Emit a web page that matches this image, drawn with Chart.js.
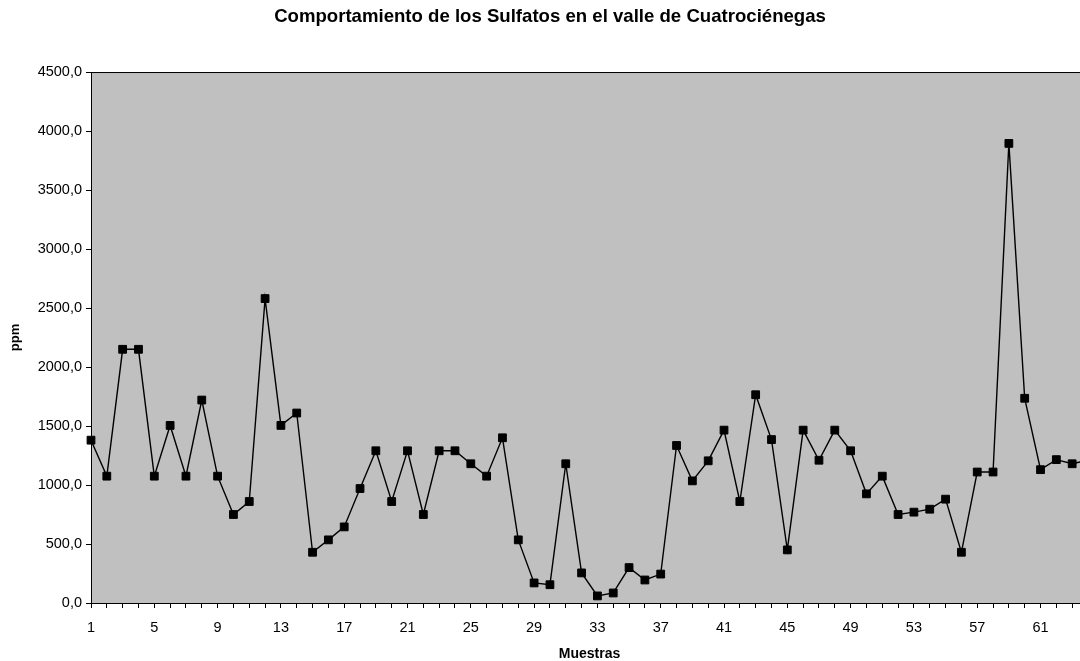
<!DOCTYPE html>
<html>
<head>
<meta charset="utf-8">
<script src="https://cdn.jsdelivr.net/npm/chart.js@4.4.1/dist/chart.umd.min.js"></script>
<style>
  html, body { margin: 0; padding: 0; background: #ffffff; overflow: hidden; width: 1080px; height: 661px; }
  canvas { display: block; }
</style>
</head>
<body>
<canvas id="c" width="1100" height="661"></canvas>
<script>
const categories = ['1','2','3','4','5','6','7','8','9','10','11','12','13','14','15','16','17','18','19','20','21','22','23','24','25','26','27','28','29','30','31','32','33','34','35','36','37','38','39','40','41','42','43','44','45','46','47','48','49','50','51','52','53','54','55','56','57','58','59','60','61','62','63','64'];
const sulfatos = [1380,1075,2150,2150,1075,1505,1075,1720,1075,750,860,2580,1505,1610,430,535,645,970,1290,860,1290,750,1290,1290,1180,1075,1400,535,170,155,1180,255,60,85,300,195,245,1335,1035,1205,1465,860,1765,1385,450,1465,1210,1465,1290,925,1075,750,770,795,880,430,1110,1110,3895,1735,1130,1215,1180,1210];
const xTickLabels = ['1','5','9','13','17','21','25','29','33','37','41','45','49','53','57','61'];
const yTickValues = [0,500,1000,1500,2000,2500,3000,3500,4000,4500];

const FONT = '"Liberation Sans", Arial, sans-serif';

const plotBg = {
  id: 'plotBg',
  beforeDraw(chart) {
    const {ctx, chartArea: a} = chart;
    ctx.save();
    ctx.fillStyle = '#c0c0c0';
    ctx.fillRect(a.left, a.top, a.right - a.left, a.bottom - a.top);
    ctx.restore();
  },
  afterDraw(chart) {
    const {ctx, chartArea: a} = chart;
    ctx.save();
    ctx.strokeStyle = '#000000';
    ctx.lineWidth = 1;
    ctx.strokeRect(a.left + 0.5, a.top + 0.5, a.right - a.left, a.bottom - a.top);
    ctx.restore();
  }
};

new Chart(document.getElementById('c'), {
  type: 'line',
  data: {
    labels: categories,
    datasets: [{
      label: 'Sulfatos',
      data: sulfatos,
      borderColor: '#000000',
      borderWidth: 1.4,
      backgroundColor: '#000000',
      pointStyle: 'rect',
      pointRadius: 5.5,
      pointBorderWidth: 1,
      pointBackgroundColor: '#000000',
      pointBorderColor: '#000000',
      tension: 0,
      fill: false,
      clip: false
    }]
  },
  options: {
    responsive: false,
    animation: false,
    devicePixelRatio: 1,
    layout: { padding: { left: 12, right: 12, top: 0, bottom: 0 } },
    plugins: {
      legend: { display: false },
      tooltip: { enabled: false },
      title: {
        display: true,
        text: 'Comportamiento de los Sulfatos en el valle de Cuatrociénegas',
        color: '#000000',
        font: { family: FONT, size: 18.6, weight: 'bold', lineHeight: 1.2 },
        padding: { top: 6, bottom: 43.7 }
      }
    },
    scales: {
      x: {
        type: 'category',
        offset: false,
        grid: { display: true, drawOnChartArea: false, drawTicks: true, tickLength: 5, color: '#000000', lineWidth: 1 },
        border: { display: true, color: '#000000', width: 1 },
        ticks: {
          autoSkip: false,
          maxRotation: 0,
          minRotation: 0,
          padding: 11,
          color: '#000000',
          font: { family: FONT, size: 14.5 },
          callback: function(value, index) {
            const lab = this.getLabelForValue(value);
            return xTickLabels.includes(lab) ? lab : '';
          }
        },
        title: {
          display: true,
          text: 'Muestras',
          color: '#000000',
          font: { family: FONT, size: 14, weight: 'bold', lineHeight: 1.2 },
          padding: { top: 0, bottom: -2 }
        },
        afterFit(scale) { scale.height = 58; }
      },
      y: {
        min: 0,
        max: 4500,
        grid: { display: true, drawOnChartArea: false, drawTicks: true, tickLength: 5, color: '#000000', lineWidth: 1 },
        border: { display: true, color: '#000000', width: 1 },
        afterBuildTicks(scale) { scale.ticks = yTickValues.map(v => ({ value: v })); },
        ticks: {
          padding: 4,
          color: '#000000',
          font: { family: FONT, size: 14.5 },
          callback: (v) => Number(v).toFixed(1).replace('.', ',')
        },
        title: {
          display: true,
          text: 'ppm',
          color: '#000000',
          font: { family: FONT, size: 13, weight: 'bold', lineHeight: 1.2 },
          padding: { top: -4, bottom: 0 }
        },
        afterFit(scale) { scale.width = 79; }
      }
    }
  },
  plugins: [plotBg]
});
</script>
</body>
</html>
